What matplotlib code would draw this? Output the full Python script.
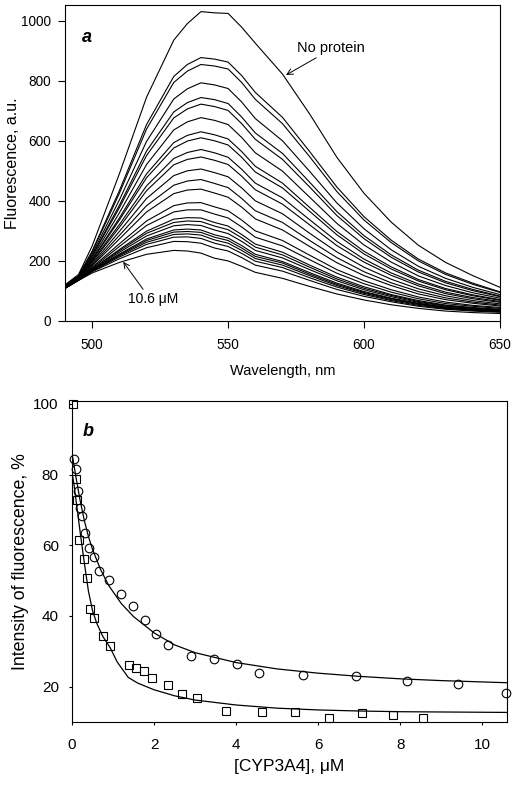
import matplotlib
matplotlib.use("Agg")
import matplotlib.pyplot as plt

plt.rcParams["font.family"] = ["Liberation Sans", "DejaVu Sans"]

# 1. Panel a: emission spectra, one row per titration step (top = no protein)
wavelength = [490, 495, 500, 510, 520, 530, 535, 540, 545, 550, 555, 560, 570, 580, 590,
              600, 610, 620, 630, 640, 650]

spectra = [
    [120, 155, 250, 490, 745, 935, 990, 1030, 1026, 1024, 978, 925, 822, 689, 545, 425, 329, 252, 195, 151, 112],
    [118, 151, 233, 434, 654, 814, 854, 877, 872, 862, 817, 761, 678, 564, 446, 347, 269, 206, 160, 126, 97],
    [118, 150, 230, 425, 639, 794, 832, 854, 849, 839, 794, 738, 657, 547, 431, 336, 261, 200, 155, 122, 95],
    [117, 149, 223, 403, 598, 739, 773, 793, 786, 774, 729, 674, 600, 498, 393, 307, 237, 182, 142, 112, 88],
    [116, 148, 218, 385, 566, 696, 727, 744, 737, 724, 679, 626, 558, 462, 364, 284, 220, 169, 132, 105, 83],
    [116, 147, 216, 377, 551, 676, 706, 722, 714, 701, 657, 605, 538, 446, 351, 274, 212, 163, 127, 101, 81],
    [115, 146, 210, 360, 521, 636, 663, 677, 668, 654, 611, 560, 499, 412, 325, 253, 196, 150, 118, 94, 76],
    [114, 145, 205, 343, 490, 594, 618, 630, 620, 606, 564, 515, 459, 378, 298, 232, 180, 138, 108, 87, 71],
    [114, 144, 203, 336, 477, 576, 599, 610, 600, 586, 545, 496, 443, 365, 287, 223, 173, 133, 104, 84, 69],
    [113, 143, 199, 321, 450, 541, 561, 571, 560, 545, 505, 459, 410, 337, 265, 206, 160, 123, 96, 78, 65],
    [113, 143, 196, 312, 434, 520, 538, 546, 535, 521, 482, 437, 389, 320, 251, 196, 152, 117, 91, 74, 62],
    [112, 142, 191, 298, 408, 484, 500, 506, 494, 480, 443, 400, 357, 292, 230, 179, 139, 107, 84, 68, 57],
    [112, 141, 187, 285, 384, 452, 466, 471, 458, 444, 408, 367, 328, 268, 211, 164, 127, 98, 77, 63, 53],
    [111, 140, 184, 273, 363, 424, 436, 439, 426, 412, 379, 340, 303, 248, 194, 151, 118, 90, 71, 59, 50],
    [111, 139, 179, 257, 333, 384, 393, 394, 380, 367, 336, 300, 268, 219, 171, 134, 104, 80, 63, 52, 45],
    [110, 139, 176, 248, 318, 363, 370, 370, 356, 343, 313, 279, 250, 204, 159, 124, 96, 74, 58, 49, 42],
    [110, 138, 173, 238, 299, 339, 344, 343, 328, 316, 288, 256, 229, 186, 146, 114, 88, 68, 53, 45, 39],
    [110, 138, 172, 234, 292, 328, 333, 331, 316, 304, 277, 246, 220, 179, 140, 109, 85, 65, 51, 43, 37],
    [109, 137, 170, 229, 283, 317, 321, 318, 303, 291, 265, 235, 210, 171, 134, 104, 81, 62, 49, 41, 36],
    [109, 137, 169, 223, 273, 303, 306, 303, 287, 276, 251, 222, 198, 161, 126, 98, 76, 59, 46, 39, 34],
    [109, 137, 168, 220, 268, 296, 298, 295, 279, 268, 243, 215, 193, 156, 122, 95, 74, 57, 45, 38, 33],
    [109, 136, 167, 217, 262, 288, 290, 286, 270, 259, 235, 208, 186, 151, 118, 92, 71, 55, 43, 36, 32],
    [109, 136, 166, 213, 255, 279, 280, 275, 259, 248, 225, 199, 178, 144, 113, 88, 68, 52, 41, 35, 31],
    [109, 136, 164, 207, 244, 265, 264, 259, 243, 233, 211, 186, 166, 135, 105, 82, 64, 49, 39, 33, 29],
    [108, 135, 160, 195, 222, 235, 233, 226, 209, 200, 182, 162, 142, 115, 90, 70, 54, 42, 33, 28, 25],
]

# 2. Panel b: quenching titration points and fitted curves
circ_x = [0.06, 0.09, 0.15, 0.19, 0.24, 0.31, 0.42, 0.54, 0.65, 0.90, 1.20, 1.48,
          1.77, 2.05, 2.34, 2.91, 3.47, 4.02, 4.56, 5.62, 6.93, 8.17, 9.40, 10.58]
circ_y = [84.4, 81.6, 75.2, 70.5, 68.2, 63.4, 59.2, 56.8, 52.8, 50.2, 46.3, 42.7,
          38.9, 34.9, 31.8, 28.7, 27.7, 26.3, 23.9, 23.3, 23.0, 21.7, 20.8, 18.1]

sq_x = [0.02, 0.09, 0.12, 0.16, 0.28, 0.37, 0.43, 0.53, 0.76, 0.92, 1.38, 1.55,
        1.76, 1.95, 2.33, 2.68, 3.04, 3.76, 4.62, 5.44, 6.26, 7.06, 7.83, 8.56]
sq_y = [100, 78.8, 72.7, 61.6, 56.2, 50.7, 41.9, 39.3, 34.2, 31.6, 26.1, 25.3,
        24.4, 22.5, 20.5, 17.9, 16.7, 13.2, 12.9, 12.7, 11.2, 12.4, 11.9, 11.2]

fit_circ_x = [0, 0.05, 0.1, 0.2, 0.3, 0.4, 0.5, 0.7, 0.9, 1.2, 1.5, 2.0, 2.5, 3.0,
              4.0, 5.0, 6.0, 7.0, 8.0, 9.0, 10.6]
fit_circ_y = [86, 82.5, 79, 72.5, 67, 62.5, 58.8, 53, 48.5, 43.5, 39.8, 35.2, 31.8, 29.6,
              26.8, 25.0, 23.8, 22.9, 22.2, 21.7, 21.1]

fit_sq_x = [0, 0.05, 0.1, 0.2, 0.3, 0.4, 0.5, 0.6, 0.75, 0.93, 1.1, 1.37, 1.6, 2.0,
            2.5, 3.0, 4.0, 5.0, 6.0, 7.0, 8.0, 10.6]
fit_sq_y = [80.5, 77, 72.5, 63.5, 55, 47, 41.5, 38, 34.2, 31.0, 27, 22.6, 21.0, 19.1,
            17.4, 16.2, 14.8, 13.9, 13.4, 13.1, 12.9, 12.7]

fig = plt.figure(figsize=(5.2, 7.85), dpi=100)

# --- panel a ---
ax1 = fig.add_axes([0.125, 0.5911, 0.8365, 0.4025])
for row in spectra:
    ax1.plot(wavelength, row, color="black", linewidth=0.8)
ax1.set_xlim(490, 650)
ax1.set_ylim(0, 1052)
ax1.set_xticks([500, 550, 600, 650])
ax1.set_yticks([0, 200, 400, 600, 800, 1000])
ax1.tick_params(direction="out", length=5, width=0.8, labelsize=9.8, pad=5)
ax1.tick_params(axis="x", pad=7)
ax1.set_xlabel("Wavelength, nm", fontsize=10.5, labelpad=9)
ax1.set_ylabel("Fluorescence, a.u.", fontsize=11.5, labelpad=1)
ax1.text(498.1, 945, "a", fontsize=13, fontweight="bold", fontstyle="italic",
         ha="center", va="center")
ax1.annotate("No protein", xy=(571.3, 819), xytext=(575.5, 909),
             fontsize=10.5, va="center",
             arrowprops=dict(arrowstyle="->", color="black", lw=0.7,
                             shrinkA=0, shrinkB=0, relpos=(0.35, 0.0)))
ax1.annotate("10.6 \u03bcM", xy=(511.4, 197), xytext=(513, 73),
             fontsize=10, va="center",
             arrowprops=dict(arrowstyle="->", color="black", lw=0.7,
                             shrinkA=0, shrinkB=0, relpos=(0.35, 1.0)))

# --- panel b ---
ax2 = fig.add_axes([0.1385, 0.0803, 0.8365, 0.4089])
ax2.plot(fit_circ_x, fit_circ_y, color="black", linewidth=0.9)
ax2.plot(fit_sq_x, fit_sq_y, color="black", linewidth=0.9)
ax2.plot(circ_x, circ_y, "o", markersize=6.2, markerfacecolor="none",
         markeredgecolor="black", markeredgewidth=0.8, clip_on=False)
ax2.plot(sq_x, sq_y, "s", markersize=5.6, markerfacecolor="none",
         markeredgecolor="black", markeredgewidth=0.8, clip_on=False)
ax2.set_xlim(0, 10.6)
ax2.set_ylim(10, 100.8)
ax2.set_xticks([0, 2, 4, 6, 8, 10])
ax2.set_yticks([20, 40, 60, 80, 100])
ax2.tick_params(direction="out", length=2.5, width=0.8, labelsize=11, pad=7)
ax2.tick_params(axis="x", pad=9)
ax2.set_xlabel("[CYP3A4], \u03bcM", fontsize=12.5, labelpad=5)
ax2.set_ylabel("Intensity of fluorescence, %", fontsize=12.8, labelpad=3)
ax2.text(0.39, 92.2, "b", fontsize=13, fontweight="bold", fontstyle="italic",
         ha="center", va="center")

for ax in (ax1, ax2):
    ax.tick_params(top=False, right=False)
    for side in ax.spines.values():
        side.set_linewidth(0.8)

fig.savefig("out.png", dpi=100)
